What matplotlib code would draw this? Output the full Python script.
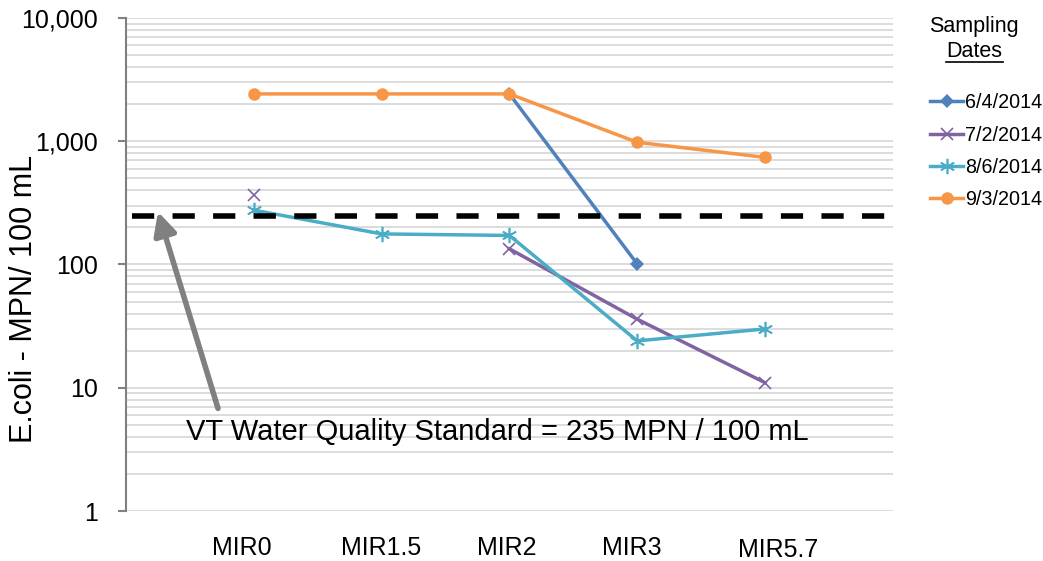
import matplotlib.pyplot as plt
import matplotlib.ticker as mticker
import matplotlib.transforms as mtrans
import numpy as np

# Probenahmestellen und Messwerte (E. coli, MPN/100 mL)
sites = ['MIR0', 'MIR1.5', 'MIR2', 'MIR3', 'MIR5.7']
dates = ['6/4/2014', '7/2/2014', '8/6/2014', '9/3/2014']
nan = np.nan
val_0604 = [nan, nan, 2420, 101, nan]
val_0702 = [365, nan, 134, 36, 11]
val_0806 = [276, 177, 172, 24, 30]
val_0903 = [2420, 2420, 2420, 980, 740]
standard = 248
standard_label = 'VT Water Quality Standard = 235 MPN / 100 mL'

plt.rcParams['font.family'] = ['Liberation Sans', 'DejaVu Sans']

fig = plt.figure(figsize=(10.43, 5.61), dpi=100)
ax = fig.add_axes([0.1208, 0.0891, 0.7352, 0.8789])

x = np.arange(len(sites))
colors = ['#4F81BD', '#8064A2', '#4BACC6', '#F79646']
markers = ['D', 'x', (6, 2, 0), 'o']
sizes = [7, 9, 11, 9]
for vals, lab, c, m, s in zip([val_0604, val_0702, val_0806, val_0903], dates, colors, markers, sizes):
    ax.plot(x, vals, color=c, marker=m, markersize=s, lw=2.5, label=lab,
            markeredgewidth=1.2 if m not in ('o', 'D') else 0)

ax.axhline(standard, color='black', lw=4, dashes=(4, 3.3), xmin=0.008, xmax=1.0)

ax.annotate('', xy=(-0.75, standard * 1.08), xytext=(-0.28, 6.8),
            arrowprops=dict(arrowstyle='-|>', color='#808080', lw=4,
                            mutation_scale=34, shrinkA=0, shrinkB=0))
ax.text(-0.53, 4.35, standard_label, fontsize=21, va='center', ha='left')

ax.set_yscale('log')
ax.set_ylim(1, 10000)
ax.set_xlim(-1, 5)
ax.yaxis.set_major_formatter(mticker.FuncFormatter(lambda v, p: f'{v:,.0f}'))
ax.yaxis.set_minor_locator(mticker.LogLocator(subs=np.arange(2, 10)))
ax.yaxis.set_minor_formatter(mticker.NullFormatter())
ax.grid(True, which='both', axis='y', color='#D9D9D9', lw=1.3)
ax.set_axisbelow(True)
ax.tick_params(axis='y', which='major', labelsize=18, length=6, color='#808080', width=1.5, pad=14)
ax.tick_params(axis='y', which='minor', length=0)
ax.set_xticks(x)
ax.set_xticklabels(sites, fontsize=18)
ax.tick_params(axis='x', length=0, pad=18)
# kleine Versätze der Kategorienbeschriftungen wie im Original
for lbl, dx, dy in zip(ax.get_xticklabels(), [-12, 0, -3, -5, 13], [0, 0, 0, 0, -2]):
    lbl.set_transform(lbl.get_transform() + mtrans.ScaledTranslation(dx / 100, dy / 100, fig.dpi_scale_trans))
for sp in ['top', 'right', 'bottom']:
    ax.spines[sp].set_visible(False)
ax.spines['left'].set_color('#808080')
ax.spines['left'].set_linewidth(1.5)
ax.set_ylabel('E.coli - MPN/ 100 mL', fontsize=22)
ax.yaxis.set_label_coords(-0.113, 0.43)

fig.text(0.934, 0.952, 'Sampling', fontsize=15.5, ha='center', va='center')
fig.text(0.934, 0.908, 'Dates', fontsize=15.5, ha='center', va='center')
fig.add_artist(plt.Line2D([0.907, 0.962], [0.889, 0.889], color='black', lw=1.2))

leg = fig.legend(loc='upper left', bbox_to_anchor=(0.884, 0.848), frameon=False,
                 fontsize=14.2, handlelength=1.7, handletextpad=0.1, labelspacing=0.68,
                 borderaxespad=0)

fig.savefig('out.png', dpi=100)
